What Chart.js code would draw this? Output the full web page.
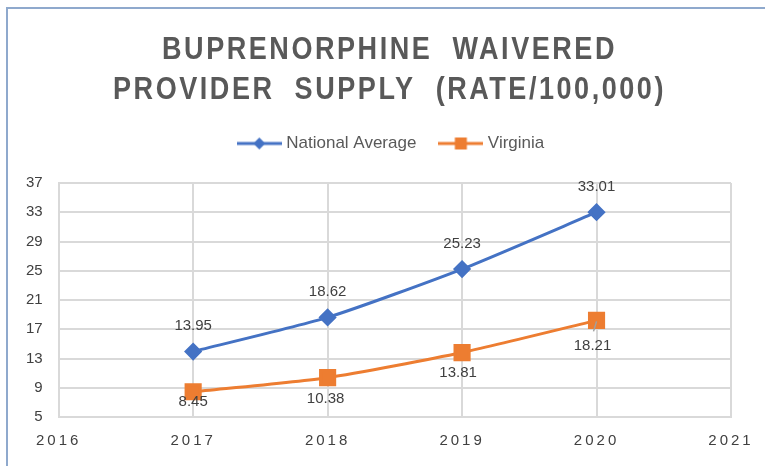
<!DOCTYPE html>
<html>
<head>
<meta charset="utf-8">
<script src="https://cdn.jsdelivr.net/npm/chart.js@4.4.1/dist/chart.umd.min.js"></script>
<style>
  html, body { margin: 0; padding: 0; background: #fff; }
  #wrap { width: 765px; height: 466px; position: relative; }
</style>
</head>
<body>
<div id="wrap"><canvas id="chart_div"></canvas></div>
<script>
const years = [2017, 2018, 2019, 2020];
const nationalAvg = [13.95, 18.62, 25.23, 33.01];
const virginia = [8.45, 10.38, 13.81, 18.21];
const titleLines = ['BUPRENORPHINE  WAIVERED', 'PROVIDER  SUPPLY  (RATE/100,000)'];

const BLUE = '#4472C4';
const ORANGE = '#ED7D31';
const TEXT = '#404040';
const FONT = '"Liberation Sans", Arial, sans-serif';

const toPoints = (vals) => vals.map((v, i) => ({ x: years[i], y: v }));

// legend swatch: short line with the marker in the middle
const swatch = function (color, style) {
    const c = document.createElement('canvas');
    c.width = 45; c.height = 16;
    const g = c.getContext('2d');
    g.strokeStyle = color; g.lineWidth = 3;
    g.beginPath(); g.moveTo(0, 8); g.lineTo(45, 8); g.stroke();
    g.fillStyle = color;
    if (style === 'diamond') {
        g.beginPath(); g.moveTo(22.5, 2); g.lineTo(28.5, 8); g.lineTo(22.5, 14); g.lineTo(16.5, 8); g.closePath(); g.fill();
    } else {
        g.fillRect(16.5, 2, 12, 12);
    }
    return c;
};

const frame = {
    id: 'frame',
    beforeDraw(chart) {
        const c = chart.ctx;
        c.save();
        c.strokeStyle = '#8FA9CD';
        c.lineWidth = 2;
        c.beginPath();
        c.moveTo(7, 466); c.lineTo(7, 8); c.lineTo(765, 8);
        c.stroke();
        c.restore();
    }
};

// label placement, Excel style: above for the first series, below for the second
const belowShift = [[0, 3], [-2, 14], [-4, 13], [-4, 18]];

const valueLabels = {
    id: 'valueLabels',
    afterDatasetsDraw(chart) {
        const c = chart.ctx;
        c.save();
        c.font = '15px ' + FONT;
        c.fillStyle = TEXT;
        c.textAlign = 'center';
        chart.data.datasets.forEach((ds, di) => {
            const meta = chart.getDatasetMeta(di);
            meta.data.forEach((pt, i) => {
                const txt = ds.data[i].y.toFixed(2);
                if (di === 0) {
                    c.textBaseline = 'bottom';
                    c.fillText(txt, pt.x, pt.y - 18);
                } else {
                    const [dx, dy] = belowShift[i];
                    if (i === ds.data.length - 1) {
                        c.strokeStyle = '#A0A0A0'; c.lineWidth = 1.5;
                        c.beginPath(); c.moveTo(pt.x, pt.y + 1); c.lineTo(pt.x - 3, pt.y + 11); c.stroke();
                    }
                    c.textBaseline = 'top';
                    c.fillText(txt, pt.x + dx, pt.y + dy);
                }
            });
        });
        c.restore();
    }
};

const chart = new Chart(document.getElementById('chart_div'), {
    type: 'line',
    data: {
        datasets: [
            {
                label: 'National Average',
                data: toPoints(nationalAvg),
                borderColor: BLUE,
                backgroundColor: BLUE,
                borderWidth: 3,
                pointStyle: 'rectRot',
                pointRadius: 7,
                tension: 0.2
            },
            {
                label: 'Virginia',
                data: toPoints(virginia),
                borderColor: ORANGE,
                backgroundColor: ORANGE,
                borderWidth: 3,
                pointStyle: 'rect',
                pointRadius: 10,
                tension: 0.2
            }
        ]
    },
    options: {
        responsive: true,
        maintainAspectRatio: false,
        animation: false,
        layout: { padding: { left: 10, right: 34, top: 20, bottom: 1 } },
        plugins: {
            tooltip: { enabled: false },
            title: {
                display: true,
                text: titleLines,
                color: '#595959',
                font: { family: FONT, size: 32, weight: 'bold', lineHeight: 1.25 },
                padding: { top: 10, bottom: 0 }
            },
            legend: {
                labels: {
                    usePointStyle: true,
                    pointStyleWidth: 37,
                    boxHeight: 16,
                    color: '#595959',
                    font: { family: FONT, size: 17 },
                    padding: 26,
                    generateLabels(ch) {
                        return ch.data.datasets.map((ds, i) => ({
                            text: ds.label,
                            pointStyle: swatch(ds.borderColor, i === 0 ? 'diamond' : 'square'),
                            fillStyle: ds.borderColor,
                            strokeStyle: ds.borderColor,
                            lineWidth: 0,
                            fontColor: '#595959',
                            datasetIndex: i
                        }));
                    }
                }
            }
        },
        scales: {
            x: {
                type: 'linear',
                min: 2016,
                max: 2021,
                grid: { color: '#D9D9D9', lineWidth: 2, drawTicks: false },
                border: { color: '#D9D9D9', width: 2 },
                ticks: {
                    stepSize: 1,
                    padding: 15,
                    color: TEXT,
                    font: { family: FONT, size: 15 },
                    callback: (v) => String(v)
                }
            },
            y: {
                min: 5,
                max: 37,
                grid: { color: '#D9D9D9', lineWidth: 2, drawTicks: false },
                border: { color: '#D9D9D9', width: 2 },
                ticks: {
                    stepSize: 4,
                    padding: 16,
                    color: TEXT,
                    font: { family: FONT, size: 15 }
                }
            }
        }
    },
    plugins: [frame, valueLabels]
});

// letter spacing for the year labels
const spaced = function (obj, fn, sp) {
    const orig = obj[fn].bind(obj);
    obj[fn] = function (...a) {
        const c = this.ctx;
        const prev = c.letterSpacing;
        c.letterSpacing = sp;
        orig(...a);
        c.letterSpacing = prev;
    };
};
spaced(chart.scales.x, 'drawLabels', '3px');

// title: spaced, narrowed (no condensed face installed) and moved right
const titleDraw = chart.titleBlock.draw.bind(chart.titleBlock);
chart.titleBlock.draw = function () {
    const c = this.ctx;
    const cx = (this.left + this.right) / 2;
    c.save();
    c.letterSpacing = '3px';
    c.translate(cx + 19, 0); c.scale(0.845, 1); c.translate(-cx, 0);
    titleDraw();
    c.restore();
};

// legend: extra room below it, and shifted right like the original
const legendFit = chart.legend.fit.bind(chart.legend);
chart.legend.fit = function () {
    legendFit();
    this.height += 20;
};
const legendDraw = chart.legend.draw.bind(chart.legend);
chart.legend.draw = function () {
    const c = this.ctx;
    c.save();
    c.translate(22, -1);
    legendDraw();
    c.restore();
};
chart.update();
</script>
</body>
</html>
